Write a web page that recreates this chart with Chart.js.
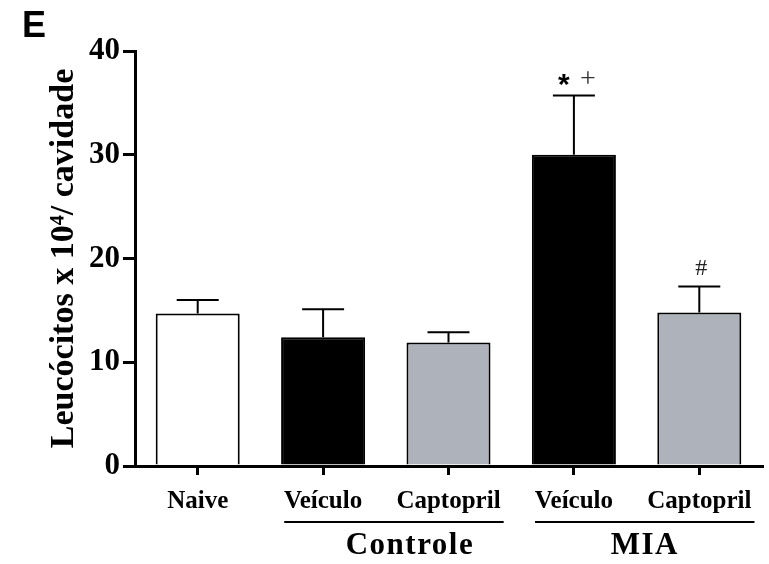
<!DOCTYPE html>
<html>
<head>
<meta charset="utf-8">
<script src="https://cdn.jsdelivr.net/npm/chart.js@4/dist/chart.umd.min.js"></script>
<style>
  html, body { margin: 0; padding: 0; background: #fff; }
  #wrap { width: 769px; height: 564px; position: relative; }
</style>
</head>
<body>
<div id="wrap"><canvas id="myChart" width="769" height="564"></canvas></div>
<script>
var labels = ["Naive", "Veículo", "Captopril", "Veículo", "Captopril"];
var means = [14.7, 12.4, 11.9, 30.0, 14.8];
var errTop = [16.0, 15.1, 12.9, 35.7, 17.3];
var barColors = ["#ffffff", "#000000", "#aeb3bb", "#000000", "#aeb3bb"];
var marks = ["", "", "", "*+", "#"];
var groupNames = ["Controle", "MIA"];
var groupFrom = [1, 3];
var groupTo = [2, 4];
var yTicks = [0, 10, 20, 30, 40];

var serif = "'Liberation Serif', 'Times New Roman', serif";

// error bars, significance marks, group lines and panel letter
var extras = {
    id: "extras",
    afterDatasetsDraw: function(chart) {
        var ctx = chart.ctx;
        var x = chart.scales.x, y = chart.scales.y;
        ctx.save();
        ctx.strokeStyle = "#000";
        ctx.lineWidth = 2;
        means.forEach(function(v, i) {
            var cx = x.getPixelForValue(i);
            var y0 = y.getPixelForValue(v);
            var y1 = y.getPixelForValue(errTop[i]);
            ctx.beginPath();
            ctx.moveTo(cx, y0);
            ctx.lineTo(cx, y1);
            ctx.moveTo(cx - 21, y1);
            ctx.lineTo(cx + 21, y1);
            ctx.stroke();
            var m = marks[i];
            if (m) {
                ctx.fillStyle = "#000";
                ctx.textAlign = "center";
                ctx.textBaseline = "middle";
                if (m === "*+") {
                    ctx.font = "bold 30px 'Liberation Sans', Arial, sans-serif";
                    ctx.fillText("*", cx - 10, y1 - 10);
                    ctx.font = "28px " + serif;
                    ctx.fillStyle = "#333";
                    ctx.fillText("+", cx + 14, y1 - 16);
                } else {
                    ctx.font = "24px " + serif;
                    ctx.fillStyle = "#222";
                    ctx.fillText(m, cx + 2, y1 - 18);
                }
            }
        });
        // group underline + name
        var half = (x.getPixelForValue(1) - x.getPixelForValue(0)) / 2;
        var nudge = [16, 0];
        groupNames.forEach(function(name, k) {
            var a = x.getPixelForValue(groupFrom[k]) - half * 0.62;
            var b = x.getPixelForValue(groupTo[k]) + half * 0.88;
            ctx.strokeStyle = "#000";
            ctx.lineWidth = 2;
            ctx.beginPath();
            ctx.moveTo(a, 522);
            ctx.lineTo(b, 522);
            ctx.stroke();
            ctx.fillStyle = "#000";
            ctx.font = "bold 31px " + serif;
            ctx.letterSpacing = "1.5px";
            ctx.textAlign = "center";
            ctx.textBaseline = "middle";
            ctx.fillText(name, (a + b) / 2 + nudge[k], 546);
            ctx.letterSpacing = "0px";
        });
        ctx.font = "bold 36px 'Liberation Sans', Arial, sans-serif";
        ctx.textAlign = "left";
        ctx.textBaseline = "alphabetic";
        ctx.fillStyle = "#000";
        ctx.fillText("E", 22, 37);
        ctx.restore();
    }
};

new Chart(document.getElementById("myChart"), {
    type: "bar",
    data: {
        labels: labels,
        datasets: [{
            data: means,
            backgroundColor: barColors,
            borderColor: "#000",
            borderWidth: 2,
            borderSkipped: "bottom",
            barPercentage: 0.67,
            categoryPercentage: 1
        }]
    },
    options: {
        responsive: false,
        animation: false,
        events: [],
        layout: { padding: { top: 51, right: 7, bottom: 0, left: 0 } },
        plugins: { legend: { display: false }, tooltip: { enabled: false } },
        scales: {
            x: {
                offset: true,
                grid: { display: true, offset: false, drawOnChartArea: false, drawTicks: true, tickLength: 9, color: "#000", lineWidth: 3 },
                border: { display: true, color: "#000", width: 3 },
                ticks: { color: "#000", padding: 12, maxRotation: 0, autoSkip: false, font: { family: serif, weight: "bold", size: 25 } },
                afterFit: function(s) { s.height = 98; }
            },
            y: {
                min: 0,
                max: 40,
                afterBuildTicks: function(s) { s.ticks = yTicks.map(function(v) { return { value: v }; }); },
                grid: { display: true, drawOnChartArea: false, drawTicks: true, tickLength: 12, color: "#000", lineWidth: 3 },
                border: { display: true, color: "#000", width: 3 },
                ticks: { color: "#000", padding: 3, font: { family: serif, weight: "bold", size: 31 } },
                title: { display: true, text: "Leucócitos x 10⁴/ cavidade", color: "#000", padding: { top: 44, bottom: 0 }, font: { family: serif, weight: "bold", size: 34 } },
                afterFit: function(s) { s.width = 135; }
            }
        }
    },
    plugins: [extras]
});
</script>
</body>
</html>
